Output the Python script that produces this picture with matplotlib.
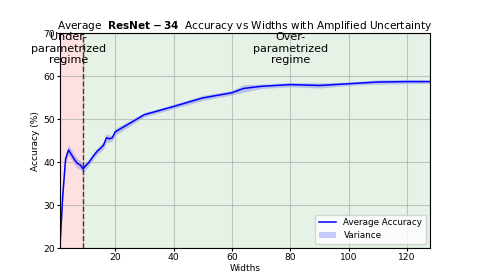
import matplotlib
matplotlib.use("Agg")
import matplotlib.pyplot as plt
import numpy as np

# Widths evaluated and mean accuracy (%)
widths = [1, 2, 3, 4, 5, 6, 7, 8, 9, 10, 11, 12, 13, 14, 15, 16, 17, 18, 19, 20,
          30, 40, 50, 60, 64, 70, 80, 90, 100, 110, 120, 128]
avg_acc = [19.5, 32.0, 40.8, 42.9, 41.8, 40.7, 39.8, 39.4, 38.5, 39.3, 40.0, 41.0,
           41.9, 42.7, 43.3, 44.0, 45.7, 45.5, 45.7, 47.1,
           51.1, 53.0, 55.0, 56.2, 57.2, 57.7, 58.1, 57.9, 58.3, 58.7, 58.8, 58.8]
# amplified uncertainty (half-width of the shaded band)
spread = [0.6, 0.8, 1.0, 1.2, 1.2, 1.1, 1.1, 1.0, 0.9, 0.8, 0.7, 0.7,
          0.7, 0.7, 0.8, 0.9, 1.0, 0.8, 0.7, 0.8,
          0.5, 0.5, 0.6, 0.5, 0.9, 0.5, 0.5, 0.6, 0.4, 0.5, 0.5, 0.4]

split_width = 9

widths = np.array(widths)
avg_acc = np.array(avg_acc)
spread = np.array(spread)

fig, ax = plt.subplots(figsize=(4.78, 2.79), dpi=100)

ax.axvspan(widths[0], split_width, color="red", alpha=0.12)
ax.axvspan(split_width, widths[-1], color="green", alpha=0.1)
ax.axvline(split_width, color="black", linestyle="--", linewidth=1, alpha=0.7)

ax.plot(widths, avg_acc, color="blue", linewidth=1.1, label="Average Accuracy")
ax.fill_between(widths, avg_acc - spread, avg_acc + spread, color="blue",
                alpha=0.2, linewidth=0, label="Variance")

ax.text(4, 66.5, "Under-\nparametrized\nregime", ha="center", va="center", fontsize=8)
ax.text(80, 66.5, "Over-\nparametrized\nregime", ha="center", va="center", fontsize=8)

ax.set_xlim(widths[0], widths[-1])
ax.set_ylim(20, 70)
ax.set_title(r"Average  $\bf{ResNet\:-\:34}$  Accuracy vs Widths with Amplified Uncertainty",
             fontsize=7.6, pad=2)
ax.set_xlabel("Widths", fontsize=6.5, labelpad=1)
ax.set_ylabel("Accuracy (%)", fontsize=6.5, labelpad=2)
ax.tick_params(labelsize=6.6, length=2.5, pad=1)
ax.grid(True, alpha=0.7)
ax.legend(loc="lower right", fontsize=6.3)

fig.savefig("out.png", dpi=100)
